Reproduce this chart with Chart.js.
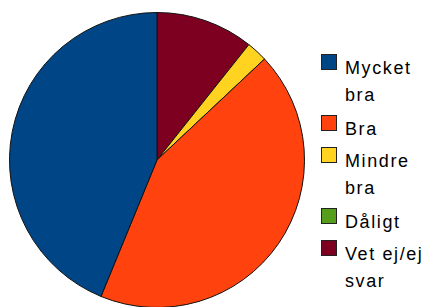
<!DOCTYPE html>
<html lang="sv">
<head>
    <meta charset="UTF-8">
    <title>Pie</title>
    <script src="https://cdn.jsdelivr.net/npm/chart.js"></script>
    <style>
        body {
            margin: 0;
            padding: 0;
            background: white;
            width: 424px;
            height: 307px;
            overflow: hidden;
            position: relative;
            font-family: "Liberation Sans", Arial, sans-serif;
        }
        #chart-box {
            position: absolute;
            left: 9px;
            top: 12px;
            width: 296px;
            height: 296px;
        }
        .item {
            position: absolute;
            left: 321px;
        }
        .swatch {
            position: absolute;
            left: 0;
            top: 0;
            width: 14px;
            height: 14px;
            border: 1px solid #222;
        }
        .label {
            position: absolute;
            left: 24px;
            top: 1px;
            font-size: 18px;
            line-height: 27px;
            letter-spacing: 1.6px;
            color: #000;
            white-space: nowrap;
        }
    </style>
</head>
<body>
    <div id="chart-box"><canvas id="pie"></canvas></div>
    <div id="legend"></div>

    <script>
        const categories = ['Mycket bra', 'Bra', 'Mindre bra', 'Dåligt', 'Vet ej/ej svar'];
        const legendLines = [['Mycket', 'bra'], ['Bra'], ['Mindre', 'bra'], ['Dåligt'], ['Vet ej/ej', 'svar']];
        const values = [43.8, 43.2, 2.3, 0, 10.7];
        const colors = ['#004586', '#ff420e', '#ffd320', '#579d1c', '#7e0021'];

        // legend rows (top of each swatch)
        const legendTops = [54, 115, 147, 208, 240];
        const legend = document.getElementById('legend');
        categories.forEach(function (c, i) {
            let item = document.createElement('div');
            item.className = 'item';
            item.style.top = legendTops[i] + 'px';
            let sw = document.createElement('div');
            sw.className = 'swatch';
            sw.style.background = colors[i];
            let lb = document.createElement('div');
            lb.className = 'label';
            lb.innerHTML = legendLines[i].join('<br>');
            item.appendChild(sw);
            item.appendChild(lb);
            legend.appendChild(item);
        });

        // the original runs counter-clockwise from 12 o'clock, so feed the data reversed
        const ctx = document.getElementById('pie').getContext('2d');
        new Chart(ctx, {
            type: 'pie',
            data: {
                labels: categories.slice().reverse(),
                datasets: [{
                    data: values.slice().reverse(),
                    backgroundColor: colors.slice().reverse(),
                    borderColor: '#111',
                    borderWidth: 1
                }]
            },
            options: {
                responsive: true,
                maintainAspectRatio: false,
                animation: false,
                layout: { padding: 0 },
                plugins: {
                    legend: { display: false },
                    tooltip: { enabled: false }
                }
            }
        });
    </script>
</body>
</html>
